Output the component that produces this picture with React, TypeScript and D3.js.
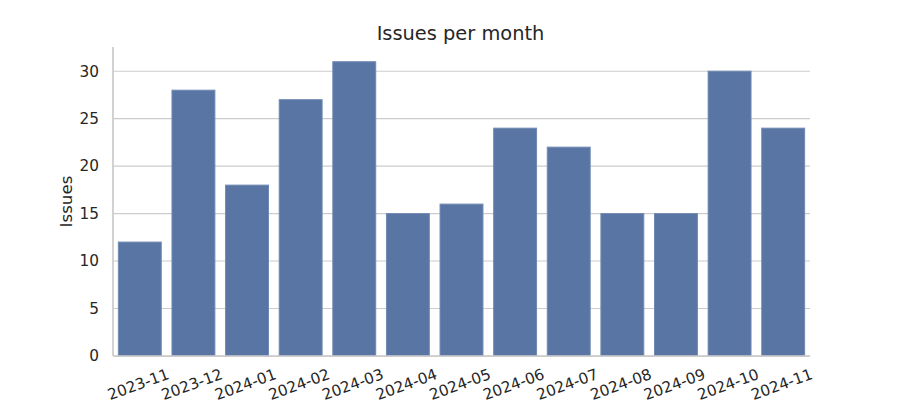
import React from "react";
import * as d3 from "d3";

const months = ["2023-11","2023-12","2024-01","2024-02","2024-03","2024-04","2024-05","2024-06","2024-07","2024-08","2024-09","2024-10","2024-11"];
const issues = [12, 28, 18, 27, 31, 15, 16, 24, 22, 15, 15, 30, 24];
const yTicks = [0, 5, 10, 15, 20, 25, 30];

const W = 900, H = 400;
const left = 113, right = 810, top = 47, bottom = 356;
const font = "DejaVu Sans, sans-serif";
const textColor = "#262626";
const tickFs = 15.3;
const rot = 20;

export default function App() {
  const x = d3.scaleBand<string>().domain(months).range([left, right]).paddingInner(0.2).paddingOuter(0.1);
  const ymax = d3.max(issues)! * 1.05;
  const y = d3.scaleLinear().domain([0, ymax]).range([bottom, top]);

  const charW = (s: string) => s.split("").reduce((a, c) => a + (c === "-" ? 0.361 : 0.636), 0) * tickFs;
  const rad = (rot * Math.PI) / 180;
  const textH = tickFs * 1.16;

  return (
    <svg width={W} height={H} style={{ position: "absolute", left: 0, top: 0, background: "#fff" }}>
      <rect x={0} y={0} width={W} height={H} fill="#fff" />
      {yTicks.map((t) => (
        <g key={t}>
          <line x1={left} x2={right} y1={y(t)} y2={y(t)} stroke="#cccccc" strokeWidth={1.1} />
          <text x={99} y={y(t)} dy="0.35em" textAnchor="end" fontFamily={font} fontSize={tickFs} fill={textColor}>{t}</text>
        </g>
      ))}
      {months.map((m, i) => (
        <rect key={m} x={x(m)!} y={y(issues[i])} width={x.bandwidth()} height={y(0) - y(issues[i])}
          fill="#5875a4" stroke="#6f89b2" strokeWidth={1} />
      ))}
      <line x1={left} x2={left} y1={top} y2={bottom} stroke="#cccccc" strokeWidth={1.75} />
      <line x1={left} x2={right} y1={bottom} y2={bottom} stroke="#cccccc" strokeWidth={1.75} />
      {months.map((m) => {
        const cx = x(m)! + x.bandwidth() / 2 - 1.5;
        const w = charW(m);
        const bh = w * Math.sin(rad) + textH * Math.cos(rad);
        const cy = bottom + 9 + bh / 2;
        return (
          <text key={m} x={cx} y={cy} dy="0.35em" textAnchor="middle" fontFamily={font} fontSize={tickFs} fill={textColor}
            transform={`rotate(${-rot},${cx},${cy})`}>{m}</text>
        );
      })}
      <text x={66} y={(top + bottom) / 2} dy="0.35em" textAnchor="middle" fontFamily={font} fontSize={16.7} fill={textColor}
        transform={`rotate(-90,66,${(top + bottom) / 2})`}>Issues</text>
      <text x={(left + right) / 2 - 1} y={40} textAnchor="middle" fontFamily={font} fontSize={19.4} fill={textColor}>Issues per month</text>
    </svg>
  );
}
